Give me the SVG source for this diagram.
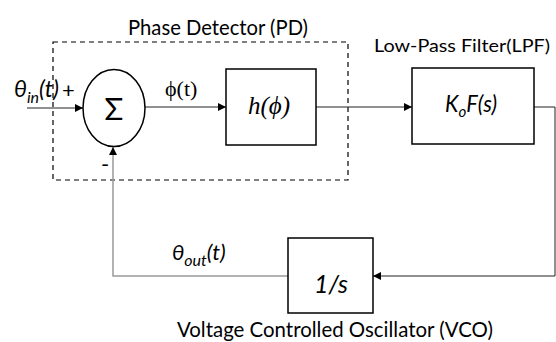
<svg xmlns="http://www.w3.org/2000/svg" width="556" height="342" viewBox="0 0 556 342">
<defs>
<style>
.lbl{font-family:Lato,"Open Sans","Liberation Sans",sans-serif;font-size:22px;fill:#000}
.math{font-family:Lato,"Open Sans","Liberation Sans",sans-serif;font-style:italic;font-size:23px;fill:#000}
.smath{font-family:"Liberation Serif","DejaVu Serif",serif;font-style:italic;font-size:25px;fill:#000}
.box{fill:#fff;stroke:#000;stroke-width:1.5}
.wire{fill:none;stroke:#222;stroke-width:1}
.gwire{fill:none;stroke:#999;stroke-width:1.5}
</style>
<marker id="arr" viewBox="0 0 10 10" refX="10" refY="5" markerWidth="8" markerHeight="8" markerUnits="userSpaceOnUse" orient="auto">
<path d="M0,0 L10,5 L0,10 z" fill="#000"/>
</marker>
</defs>
<rect width="556" height="342" fill="#fff"/>
<g id="pd-group">
<rect x="53" y="42" width="295" height="138" fill="none" stroke="#000" stroke-width="1.2" stroke-dasharray="5,4"/>
<text class="lbl" x="128" y="35" textLength="180" lengthAdjust="spacingAndGlyphs">Phase Detector (PD)</text>
</g>
<g id="connectors">
<line class="wire" x1="27" y1="108" x2="83" y2="108" marker-end="url(#arr)"/>
<line class="wire" x1="145" y1="107" x2="226" y2="107" marker-end="url(#arr)"/>
<line class="wire" x1="316" y1="107" x2="412" y2="107" marker-end="url(#arr)"/>
<polyline class="wire" points="534,107 555,107 555,276 373,276" marker-end="url(#arr)"/>
<polyline class="gwire" points="288,276 113,276 113,147" marker-end="url(#arr)"/>
</g>
<g id="sum">
<ellipse cx="114" cy="108" rx="31" ry="38.5" fill="#fff" stroke="#000" stroke-width="1.5"/>
<text x="114" y="120" text-anchor="middle" font-family="Lato,'Liberation Sans',sans-serif" font-size="31">Σ</text>
<text class="lbl" x="62" y="98">+</text>
<text class="lbl" x="101" y="172">-</text>
</g>
<g id="input-label">
<text class="math" x="14" y="97">θ<tspan style="font-size:16px" dy="6">in</tspan><tspan dy="-6">(t)</tspan></text>
</g>
<g id="phi-label">
<text x="165" y="96" font-family="'Liberation Serif',serif" font-size="22">ϕ(t)</text>
</g>
<g id="h-block">
<rect class="box" x="226" y="69" width="90" height="76"/>
<text class="smath" x="269" y="114" text-anchor="middle">h(ϕ)</text>
</g>
<g id="lpf">
<rect class="box" x="412" y="68" width="122" height="76"/>
<text class="math" x="471" y="112" text-anchor="middle" textLength="52" lengthAdjust="spacingAndGlyphs">K<tspan style="font-size:16px" dy="5">o</tspan><tspan dy="-5">F(s)</tspan></text>
<text class="lbl" x="374" y="52" style="font-size:18px" textLength="176" lengthAdjust="spacingAndGlyphs">Low-Pass Filter(LPF)</text>
</g>
<g id="vco">
<rect class="box" x="288" y="238" width="85" height="75"/>
<text class="math" x="331" y="293" text-anchor="middle" style="font-size:25px">1/s</text>
<text class="lbl" x="177" y="337" textLength="316" lengthAdjust="spacingAndGlyphs">Voltage Controlled Oscillator (VCO)</text>
</g>
<g id="output-label">
<text class="math" x="172" y="260" style="font-size:22px">θ<tspan style="font-size:16px" dy="6">out</tspan><tspan dy="-6">(t)</tspan></text>
</g>
</svg>
